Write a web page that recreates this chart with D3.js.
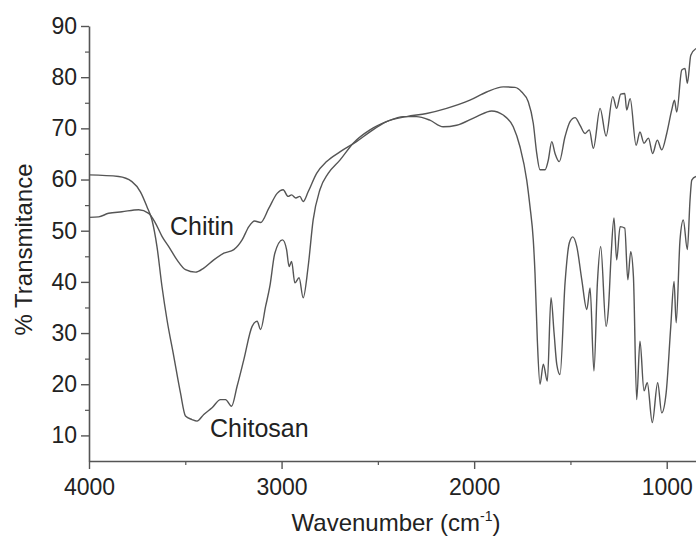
<!DOCTYPE html>
<html>
<head>
<meta charset="utf-8">
<script src="https://cdn.jsdelivr.net/npm/d3@7"></script>
<style>
  body { margin: 0; background: #fff; }
  svg { display: block; }
  text { font-family: "Liberation Sans", Arial, sans-serif; fill: #222; }
</style>
</head>
<body>
<div id="chart"></div>
<script>
// FTIR spectra (wavenumber cm-1, % transmittance)
const chitosanWn = [4000, 3846, 3777, 3733, 3699, 3673, 3647, 3621, 3595, 3560, 3525, 3499, 3465, 3439, 3404, 3361, 3317, 3291, 3260, 3231, 3196, 3153, 3127, 3109, 3083, 3061, 3035, 2995, 2974, 2961, 2948, 2931, 2909, 2888, 2862, 2836, 2801, 2758, 2697, 2628, 2541, 2455, 2368, 2299, 2230, 2161, 2091, 1987, 1909, 1849, 1797, 1762, 1727, 1710, 1693, 1684, 1672, 1658, 1641, 1620, 1601, 1585, 1571, 1554, 1528, 1506, 1488, 1467, 1441, 1415, 1398, 1378, 1360, 1343, 1315, 1303, 1289, 1274, 1260, 1242, 1218, 1202, 1187, 1173, 1156, 1139, 1118, 1101, 1075, 1047, 1026, 1003, 979, 962, 951, 931, 914, 893, 879, 870, 848];
const chitosanT = [60.9, 60.6, 59.6, 57.6, 54.7, 52.1, 46.9, 39.1, 32.6, 25.5, 18.3, 13.8, 13.1, 12.8, 14.1, 15.4, 17.0, 17.0, 15.7, 19.6, 24.8, 31.3, 32.3, 30.7, 35.2, 39.1, 45.6, 48.2, 46.3, 43.0, 44.0, 39.8, 40.8, 36.9, 43.0, 52.1, 58.0, 61.2, 63.8, 67.1, 69.7, 71.3, 72.3, 72.3, 71.6, 70.3, 70.6, 72.3, 73.4, 72.6, 70.3, 66.4, 59.9, 54.7, 48.2, 41.7, 28.7, 20.0, 23.9, 20.6, 36.9, 30.0, 23.9, 21.9, 39.8, 47.6, 48.8, 46.9, 40.4, 34.6, 38.8, 22.6, 39.8, 46.9, 31.3, 34.6, 45.0, 52.5, 44.3, 50.8, 50.5, 40.4, 45.9, 41.1, 17.0, 28.4, 18.7, 20.3, 12.5, 20.3, 14.4, 18.3, 31.3, 40.1, 32.0, 48.2, 52.1, 46.3, 56.0, 59.9, 60.6];

const chitinWn = [4000, 3950, 3898, 3829, 3742, 3690, 3655, 3621, 3586, 3543, 3499, 3447, 3404, 3352, 3300, 3248, 3205, 3170, 3140, 3109, 3066, 3023, 2992, 2966, 2948, 2926, 2905, 2888, 2862, 2818, 2766, 2697, 2611, 2541, 2455, 2351, 2247, 2143, 2022, 1935, 1849, 1788, 1753, 1719, 1693, 1675, 1658, 1632, 1615, 1597, 1580, 1558, 1528, 1502, 1476, 1450, 1424, 1402, 1381, 1346, 1315, 1280, 1260, 1239, 1218, 1208, 1190, 1159, 1139, 1118, 1095, 1073, 1049, 1026, 1000, 974, 960, 948, 922, 905, 893, 875, 848];
const chitinT = [52.6, 52.7, 53.4, 53.7, 54.1, 53.4, 51.5, 48.9, 46.9, 44.3, 42.4, 41.9, 42.7, 44.3, 45.6, 46.3, 48.2, 50.8, 51.9, 51.6, 54.4, 57.3, 58.0, 56.7, 57.0, 56.4, 56.7, 55.7, 57.6, 61.2, 63.5, 65.4, 67.4, 69.3, 71.3, 72.3, 72.9, 73.9, 75.5, 77.1, 78.1, 78.0, 77.1, 75.2, 71.0, 65.1, 61.9, 61.9, 63.8, 67.4, 65.1, 63.5, 68.4, 71.3, 72.1, 70.6, 69.0, 69.7, 66.1, 73.9, 68.5, 76.2, 73.9, 76.7, 76.8, 73.6, 75.8, 66.7, 69.3, 67.1, 68.1, 65.1, 67.7, 65.8, 69.0, 73.6, 75.5, 73.2, 81.4, 81.7, 78.8, 84.3, 85.6];

const xMajor = [4000, 3000, 2000, 1000];
const xMinor = [3500, 2500, 1500];
const yMajor = [10, 20, 30, 40, 50, 60, 70, 80, 90];
const yMinor = [15, 25, 35, 45, 55, 65, 75, 85];

const width = 696, height = 539;
const margin = { left: 89, top: 26, right: 0, bottom: 78 };

const svg = d3.select('#chart')
    .append('svg')
    .attr('width', width)
    .attr('height', height);

const x = d3.scaleLinear()
    .domain([4000, 848])
    .range([margin.left, width - margin.right]);

const y = d3.scaleLinear()
    .domain([5, 90])
    .range([height - margin.bottom, margin.top]);

const axisColor = '#555';

// axes
const gx = svg.append('g')
    .attr('transform', `translate(0,${height - margin.bottom})`)
    .call(d3.axisBottom(x).tickValues(xMajor).tickSize(8).tickSizeOuter(0).tickPadding(10).tickFormat(d3.format('d')));
gx.select('.domain').attr('stroke', axisColor).attr('stroke-width', 1.6);
gx.selectAll('.tick line').attr('stroke', axisColor).attr('stroke-width', 1.4);
gx.selectAll('.tick text').attr('font-size', 23).attr('fill', '#222')
    .style('font-family', '"Liberation Sans", Arial, sans-serif');

svg.append('g')
    .attr('transform', `translate(0,${height - margin.bottom})`)
    .call(d3.axisBottom(x).tickValues(xMinor).tickSize(4).tickFormat(''))
    .call(g => g.select('.domain').remove())
    .selectAll('.tick line').attr('stroke', axisColor).attr('stroke-width', 1.2);

const gy = svg.append('g')
    .attr('transform', `translate(${margin.left},0)`)
    .call(d3.axisLeft(y).tickValues(yMajor).tickSize(8).tickSizeOuter(0).tickPadding(4));
gy.select('.domain').attr('stroke', axisColor).attr('stroke-width', 1.6);
gy.selectAll('.tick line').attr('stroke', axisColor).attr('stroke-width', 1.4);
gy.selectAll('.tick text').attr('font-size', 23).attr('fill', '#222')
    .style('font-family', '"Liberation Sans", Arial, sans-serif');

svg.append('g')
    .attr('transform', `translate(${margin.left},0)`)
    .call(d3.axisLeft(y).tickValues(yMinor).tickSize(4).tickFormat(''))
    .call(g => g.select('.domain').remove())
    .selectAll('.tick line').attr('stroke', axisColor).attr('stroke-width', 1.2);

// clip for spectra
svg.append('clipPath').attr('id', 'plot-clip')
    .append('rect')
    .attr('x', margin.left)
    .attr('y', 0)
    .attr('width', width - margin.left)
    .attr('height', height - margin.bottom);

const line = d3.line()
    .x(d => x(d[0]))
    .y(d => y(d[1]))
    .curve(d3.curveMonotoneX);

const series = [
    { name: 'Chitosan', data: d3.zip(chitosanWn, chitosanT) },
    { name: 'Chitin', data: d3.zip(chitinWn, chitinT) }
];

svg.append('g')
    .attr('clip-path', 'url(#plot-clip)')
    .selectAll('path')
    .data(series)
    .enter()
    .append('path')
    .attr('d', d => line(d.data))
    .attr('fill', 'none')
    .attr('stroke', '#555')
    .attr('stroke-width', 1.4);

// curve labels
svg.append('text')
    .attr('x', 170).attr('y', y(49.2))
    .attr('font-size', 25)
    .text('Chitin');

svg.append('text')
    .attr('x', 210).attr('y', y(9.7))
    .attr('font-size', 25)
    .text('Chitosan');

// axis titles
const xt = svg.append('text')
    .attr('x', 396)
    .attr('y', 531)
    .attr('text-anchor', 'middle')
    .attr('font-size', 24);
xt.append('tspan').text('Wavenumber (cm');
xt.append('tspan').attr('font-size', 14).attr('dy', -10).text('-1');
xt.append('tspan').attr('dy', 10).text(')');

svg.append('text')
    .attr('transform', `translate(32,${(margin.top + height - margin.bottom) / 2 + 6}) rotate(-90)`)
    .attr('text-anchor', 'middle')
    .attr('font-size', 24)
    .text('% Transmitance');
</script>
</body>
</html>
